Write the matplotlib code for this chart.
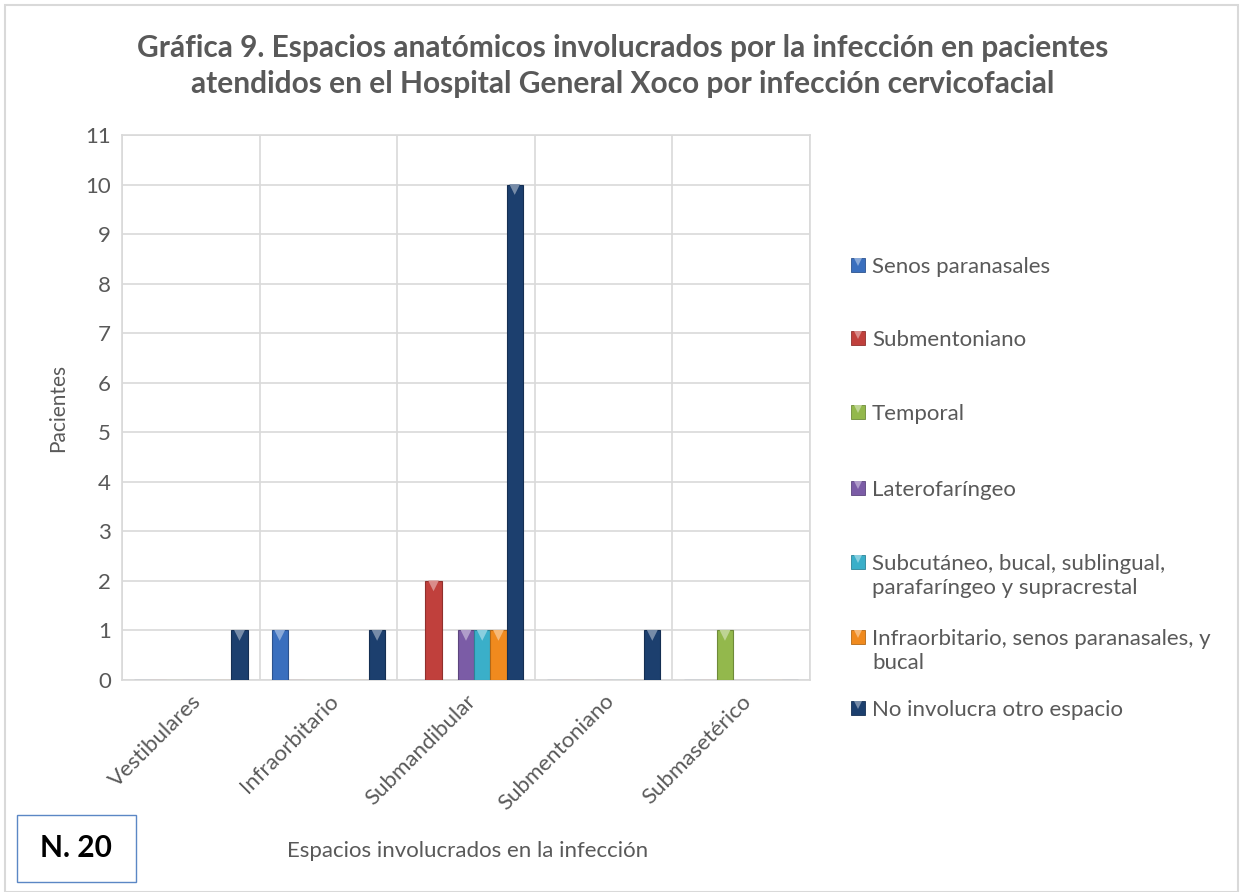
import numpy as np
import matplotlib.pyplot as plt
import matplotlib.colors as mcolors
from matplotlib.patches import Rectangle

plt.rcParams['font.family'] = ['Lato', 'DejaVu Sans']

categories = ['Vestibulares', 'Infraorbitario', 'Submandibular', 'Submentoniano', 'Submasetérico']
series_names = ['Senos paranasales', 'Submentoniano', 'Temporal', 'Laterofaríngeo',
                'Subcutáneo, bucal, sublingual,\nparafaríngeo y supracrestal',
                'Infraorbitario, senos paranasales, y\nbucal',
                'No involucra otro espacio']
senos = [0, 1, 0, 0, 0]
submentoniano = [0, 0, 2, 0, 0]
temporal = [0, 0, 0, 0, 1]
laterofaringeo = [0, 0, 1, 0, 0]
subcutaneo = [0, 0, 1, 0, 0]
infraorbitario = [0, 0, 1, 0, 0]
no_involucra = [1, 1, 10, 1, 0]
values = [senos, submentoniano, temporal, laterofaringeo, subcutaneo, infraorbitario, no_involucra]
colors = ['#3A6FBE', '#C0403C', '#93B84C', '#7B5CA6', '#3AAFC9', '#F08A1E', '#1C3F6E']

# legend rows (pixel y of first line)
legend_y = [265, 338, 412, 488, 562, 637, 708]

grey = '#595959'
W, H = 1240, 892
fig = plt.figure(figsize=(12.4, 8.92), dpi=100)
ax = fig.add_axes([122/W, 1-680/H, (810-122)/W, (680-135)/H])


def lighter(c, k=0.4):
    return np.clip(np.array(mcolors.to_rgb(c)) * (1 - k) + k, 0, 1)


def darker(c, k=0.75):
    return np.array(mcolors.to_rgb(c)) * k


x = np.arange(len(categories))
w = 0.118
for i, (vals, c) in enumerate(zip(values, colors)):
    pos = x + (i - 3) * w
    bars = ax.bar(pos, vals, width=w, color=c, edgecolor=darker(c), linewidth=0.8, zorder=3)
    tops = [b.get_height() for b in bars]
    px = [b.get_x() + b.get_width() / 2 for b in bars]
    keep = [j for j in range(len(tops)) if tops[j] > 0]
    ax.scatter([px[j] for j in keep], [tops[j] - 0.1 for j in keep], marker='v', s=60,
               color=lighter(c), edgecolors='none', zorder=4)

ax.set_xlim(-0.5, 4.5)
ax.set_ylim(0, 11)
ax.set_yticks(range(0, 12))
ax.set_xticks(x)
ax.set_xticklabels(categories, rotation=45, ha='right', rotation_mode='anchor')
ax.set_xticks(np.arange(-0.5, 5, 1), minor=True)
ax.grid(axis='y', color='#D9D9D9', linewidth=1.2, zorder=0)
ax.grid(axis='x', which='minor', color='#D9D9D9', linewidth=1.2, zorder=0)
ax.tick_params(axis='both', which='both', length=0, labelsize=16, colors=grey, pad=8)
for s in ax.spines.values():
    s.set_color('#D9D9D9')
    s.set_linewidth(1.2)

ax.set_ylabel('Pacientes', fontsize=15, color=grey, labelpad=12)
fig.text(468/W, 1-851/H, 'Espacios involucrados en la infección', fontsize=16,
         color=grey, ha='center', va='center')

fig.text(623/W, 1-48/H, 'Gráfica 9. Espacios anatómicos involucrados por la infección en pacientes',
         fontsize=21.5, fontweight='bold', color=grey, ha='center', va='center')
fig.text(623/W, 1-84/H, 'atendidos en el Hospital General Xoco por infección cervicofacial',
         fontsize=21.5, fontweight='bold', color=grey, ha='center', va='center')

# legend drawn by hand so two-line labels line up like the original
for name, c, yy in zip(series_names, colors, legend_y):
    fig.patches.append(Rectangle((851/W, 1-(yy+7)/H), 14/W, 14/H, transform=fig.transFigure,
                                 facecolor=c, edgecolor=darker(c), linewidth=0.6))
    fig.lines.append(plt.Line2D([858/W], [1-(yy-3)/H], transform=fig.transFigure, marker='v',
                                markersize=6, color=lighter(c), markeredgewidth=0, linestyle='none'))
    fig.text(872/W, 1-(yy-8)/H, name, fontsize=16, color=grey, ha='left', va='top',
             linespacing=1.25)

# outer border and N. 20 box
fig.patches.append(Rectangle((5/W, 0), 1233/W, 1-5/H, transform=fig.transFigure,
                             fill=False, edgecolor='#D9D9D9', linewidth=1.5))
fig.patches.append(Rectangle((17/W, 1-882/H), 119/W, 67/H, transform=fig.transFigure,
                             fill=False, edgecolor='#5B87C5', linewidth=1.0))
fig.text(76/W, 1-848/H, 'N. 20', fontsize=21.5, fontweight='bold', color='black',
         ha='center', va='center')

fig.savefig('out.png', dpi=100)
